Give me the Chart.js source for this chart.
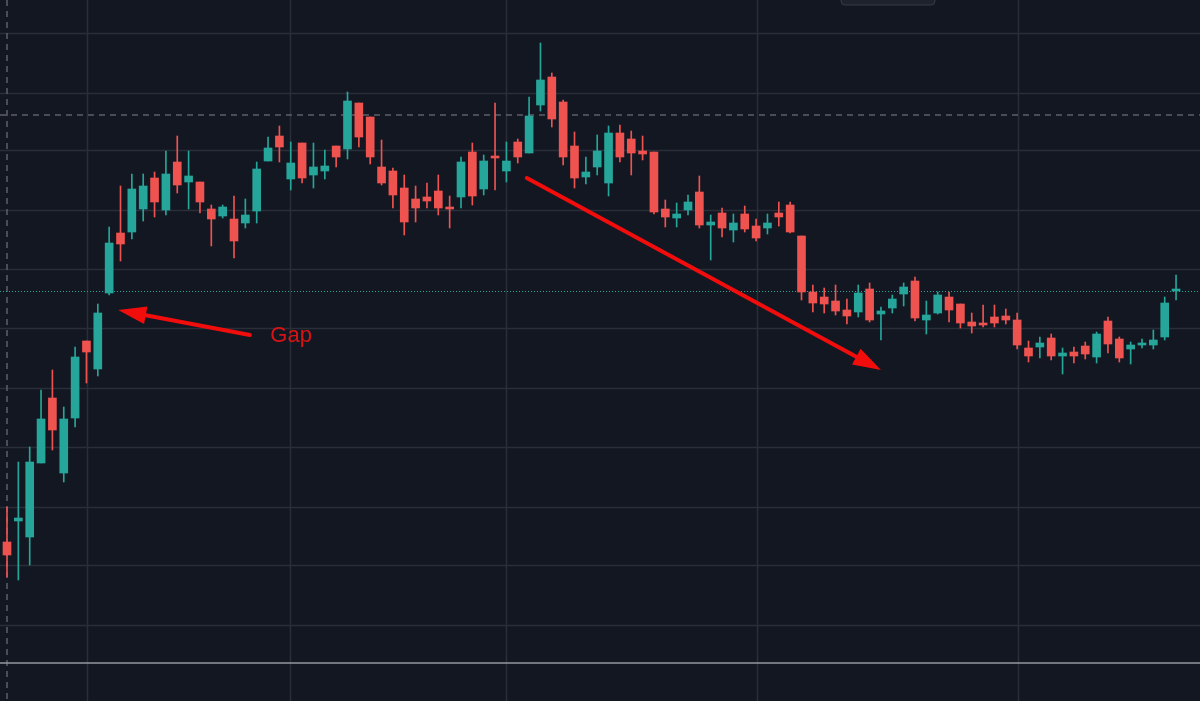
<!DOCTYPE html>
<html><head><meta charset="utf-8">
<script src="https://cdn.jsdelivr.net/npm/chart.js@4"></script>
<style>html,body{margin:0;padding:0;background:#131722;overflow:hidden}#w{width:1200px;height:701px;position:relative}</style>
</head><body><div id="w"><canvas id="c"></canvas></div>
<script>
// Price levels (vertical scale reversed: smaller = higher)
const opens  = [542,521,537,463,398,473,418,341,369,293,233,232,209,178,210,162,182,182,209,216,219,223,211,161,136,179,143,175,171,146,149,103,117,167,171,188,199,197,191,207,197,152,189,156,171,142,153,105,77,102,146,177,167,183,133,139,151,152,209,218,210,192,225,213,230,214,226,228,213,205,236,292,297,301,310,312,289,314,308,294,281,320,313,297,304,322,323,317,316,320,348,347,338,356,352,346,357,321,339,349,345,345,337,290];
const highs  = [507,462,447,390,370,407,347,341,304,227,186,174,174,172,151,136,151,182,205,205,196,199,162,137,126,142,143,143,150,146,92,103,117,140,168,175,186,183,175,196,157,143,155,103,142,139,97,43,73,100,132,157,135,126,125,131,136,152,200,203,195,176,215,208,214,206,219,214,202,202,236,285,288,285,299,285,283,307,295,283,277,301,292,292,304,313,305,305,309,313,341,337,334,348,347,342,332,317,337,342,339,330,297,275];
const lows   = [577,580,565,463,450,482,427,383,376,295,261,239,221,217,215,193,209,213,246,218,258,228,223,161,162,190,183,188,179,167,159,147,164,185,208,235,222,208,215,228,208,205,195,190,182,163,153,111,127,165,188,184,175,196,162,175,160,214,227,227,215,228,260,237,242,232,241,234,226,233,300,312,313,315,324,317,322,340,313,306,321,334,314,322,328,333,327,327,324,349,362,358,360,374,363,359,363,353,362,364,348,349,340,300];
const closes = [555,518,462,419,430,419,357,352,313,243,244,189,186,202,174,185,176,202,219,207,241,215,169,148,147,163,178,167,166,157,101,137,157,183,195,222,208,201,208,208,162,196,161,158,161,157,116,80,119,157,178,172,151,133,157,153,154,212,217,214,202,225,222,228,223,229,238,223,217,232,292,303,304,311,316,293,320,311,299,287,318,315,295,310,323,326,325,323,320,345,356,343,356,353,356,354,334,344,358,345,343,340,303,289];
const hGrid = [33,93,150,210,269,328,388,447,507,565,625];
const vGrid = [7.05,24.93,43.96,66.08,89.07];
const dashedLevel = 115, lastLevel = 291, baseLine = 663, startMarker = 0;
const arrows = [ {from:[21.4,335],to:[9.8,310]}, {from:[45.8,178],to:[77.0,370]} ];
const gapLabel = {text:'Gap', x:23.2, y:336};

const GREEN='#26a69a', RED='#ef5350';
const cols = opens.map((o,i)=> closes[i] < o ? GREEN : RED);
const wickData = highs.map((h,i)=>({x:i,y:[h,lows[i]]}));
const bodyData = opens.map((o,i)=>({x:i,y:[o,closes[i]]}));

const deco = {
  id:'deco',
  beforeDatasetsDraw(ch){
    const {ctx,scales:{x,y}} = ch;
    ctx.save();
    ctx.strokeStyle='#2a2e39'; ctx.lineWidth=1.5;
    hGrid.forEach(v=>{const p=Math.round(y.getPixelForValue(v))+0.5;ctx.beginPath();ctx.moveTo(0,p);ctx.lineTo(1200,p);ctx.stroke();});
    vGrid.forEach(v=>{const p=Math.round(x.getPixelForValue(v))+0.5;ctx.beginPath();ctx.moveTo(p,0);ctx.lineTo(p,701);ctx.stroke();});
    // dashed level
    ctx.strokeStyle='#5d606b'; ctx.lineWidth=1.5; ctx.setLineDash([6,5]);
    let p=y.getPixelForValue(dashedLevel); ctx.beginPath();ctx.moveTo(0,p);ctx.lineTo(1200,p);ctx.stroke();
    const sx=x.getPixelForValue(startMarker); ctx.beginPath();ctx.moveTo(sx,0);ctx.lineTo(sx,701);ctx.stroke();
    // last price dotted
    ctx.strokeStyle='#26a69a'; ctx.lineWidth=1; ctx.setLineDash([1,2]);
    p=y.getPixelForValue(lastLevel)+0.5; ctx.beginPath();ctx.moveTo(0,p);ctx.lineTo(1200,p);ctx.stroke();
    ctx.setLineDash([]);
    ctx.strokeStyle='#9598a1'; ctx.lineWidth=1.5;
    p=y.getPixelForValue(baseLine); ctx.beginPath();ctx.moveTo(0,p);ctx.lineTo(1200,p);ctx.stroke();
    ctx.restore();
  },
  afterDraw(ch){
    const {ctx,scales:{x,y}} = ch;
    ctx.save();
    arrows.forEach(a=>{
      const x1=x.getPixelForValue(a.from[0]), y1=y.getPixelForValue(a.from[1]);
      const x2=x.getPixelForValue(a.to[0]), y2=y.getPixelForValue(a.to[1]);
      const ang=Math.atan2(y2-y1,x2-x1), hl=28, hw=9;
      const bx=x2-hl*Math.cos(ang), by=y2-hl*Math.sin(ang);
      ctx.strokeStyle='#f20d0d'; ctx.lineWidth=4; ctx.lineCap='round';
      ctx.beginPath();ctx.moveTo(x1,y1);ctx.lineTo(bx,by);ctx.stroke();
      ctx.fillStyle='#f20d0d'; ctx.beginPath();
      ctx.moveTo(x2,y2);
      ctx.lineTo(bx-hw*Math.sin(ang),by+hw*Math.cos(ang));
      ctx.lineTo(bx+hw*Math.sin(ang),by-hw*Math.cos(ang));
      ctx.closePath();ctx.fill();
    });
    ctx.fillStyle='#d91414'; ctx.font='22px "Liberation Sans", Arial, sans-serif';
    ctx.textBaseline='middle';
    ctx.fillText(gapLabel.text, x.getPixelForValue(gapLabel.x), y.getPixelForValue(gapLabel.y));
    // small toolbar box at top
    ctx.fillStyle='#1e222d'; ctx.strokeStyle='#363a45'; ctx.lineWidth=1;
    ctx.beginPath(); ctx.roundRect(841,-8,94,13,4); ctx.fill(); ctx.stroke();
    ctx.restore();
  }
};

new Chart(document.getElementById('c'),{
  type:'bar',
  data:{datasets:[
    {data:wickData, backgroundColor:cols, barThickness:1, grouped:false, order:2},
    {data:bodyData, backgroundColor:cols, barThickness:8, minBarLength:2, grouped:false, order:1}
  ]},
  options:{
    responsive:true, maintainAspectRatio:false, animation:false,
    layout:{padding:0},
    plugins:{legend:{display:false},tooltip:{enabled:false}},
    scales:{
      x:{type:'linear', display:false, min:-0.617, max:105.11, offset:false},
      y:{display:false, reverse:true, min:0, max:701}
    }
  },
  plugins:[deco]
});
</script></body></html>
